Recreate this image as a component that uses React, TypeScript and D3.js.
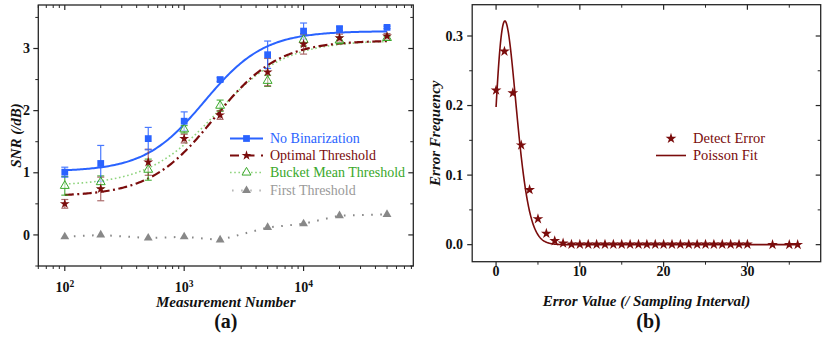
import React from "react";
import * as d3 from "d3";

// ---------- Data: panel (a) ----------
const measurementN = [100, 200, 500, 1000, 2000, 5000, 10000, 20000, 50000];
const noBinarization = [1.01, 1.15, 1.55, 1.83, 2.5, 2.9, 3.28, 3.32, 3.34];
const noBinarizationErr = [0.08, 0.29, 0.18, 0.15, 0.03, 0.22, 0.13, 0.03, 0.02];
const optimalThreshold = [0.5, 0.74, 1.17, 1.55, 1.93, 2.62, 3.07, 3.17, 3.2];
const optimalThresholdErr = [0.07, 0.19, 0.21, 0.07, 0.07, 0.22, 0.16, 0.06, 0.04];
const bucketMean = [0.79, 0.85, 1.05, 1.7, 2.08, 2.48, 3.14, 3.13, 3.17];
const bucketMeanErr = [0.15, 0.1, 0.17, 0.06, 0.09, 0.09, 0.1, 0.05, 0.03];
const firstThreshold = [-0.03, 0.0, -0.05, -0.03, -0.08, 0.12, 0.18, 0.31, 0.33];
// Boltzmann fit parameters (in log10 N): [A1, A2, x0, dx]
const fitNoBin = [1.02, 3.28, 3.17, 0.25];
const fitOptimal = [0.62, 3.13, 3.25, 0.27];
const fitBucket = [0.79, 3.13, 3.27, 0.29];
const yTicksA = [0, 1, 2, 3];
const xTicksA = [100, 1000, 10000];

// ---------- Data: panel (b) ----------
const errorValue = [
  0, 1, 2, 3, 4, 5, 6, 7, 8, 9, 10, 11, 12, 13, 14, 15, 16, 17, 18, 19, 20,
  21, 22, 23, 24, 25, 26, 27, 28, 29, 30, 33, 35, 36,
];
const errorFreq = [
  0.222, 0.278, 0.218, 0.143, 0.079, 0.037, 0.016, 0.0055, 0.002, 0.0005,
  0.0005, 0.0005, 0.0005, 0.0005, 0.0005, 0.0005, 0.0005, 0.0005, 0.0005,
  0.0005, 0.0005, 0.0005, 0.0005, 0.0005, 0.0005, 0.0005, 0.0005, 0.0005,
  0.0005, 0.0005, 0.0005, 0.0, 0.0, 0.0,
];
const poissonLambda = 1.62;
const poissonAmp = 1.0;
const poissonXScale = 0.96;
const xTicksB = [0, 10, 20, 30];
const yTicksB = [0, 0.1, 0.2, 0.3];

// ---------- styling ----------
const FONT = "Liberation Serif, Times New Roman, DejaVu Serif, serif";
const BLUE = "#2a63ff";
const RED = "#7a0c0c";
const GREEN = "#3aa82a";
const GREEN_LINE = "#8fd47e";
const GRAY = "#888888";
const AX = "#262626";

function gammaFn(z: number): number {
  const g = 7;
  const c = [
    0.99999999999980993, 676.5203681218851, -1259.1392167224028,
    771.32342877765313, -176.61502916214059, 12.507343278686905,
    -0.13857109526572012, 9.9843695780195716e-6, 1.5056327351493116e-7,
  ];
  if (z < 0.5) return Math.PI / (Math.sin(Math.PI * z) * gammaFn(1 - z));
  z -= 1;
  let x = c[0];
  for (let i = 1; i < g + 2; i++) x += c[i] / (z + i);
  const t = z + g + 0.5;
  return Math.sqrt(2 * Math.PI) * Math.pow(t, z + 0.5) * Math.exp(-t) * x;
}

function boltz(p: number[], n: number) {
  const [a1, a2, x0, dx] = p;
  const x = Math.log10(n);
  return a2 + (a1 - a2) / (1 + Math.exp((x - x0) / dx));
}

const A = { x0: 38.3, x1: 413.3, y0: 5, y1: 266 };
const B = { x0: 472.2, x1: 820.7, y0: 4.7, y1: 261.7 };

const T: React.CSSProperties = { fontFamily: FONT };

export default function App() {
  const xA = d3.scaleLog().domain([60, 83000]).range([A.x0, A.x1]);
  const yA = d3.scaleLinear().domain([-0.5, 3.7]).range([A.y1, A.y0]);
  const xB = d3.scaleLinear().domain([-2.85, 38.75]).range([B.x0, B.x1]);
  const yB = d3.scaleLinear().domain([-0.0245, 0.345]).range([B.y1, B.y0]);

  const square = d3.symbol(d3.symbolSquare, 46)()!;
  const star = d3.symbol(d3.symbolStar, 30)()!;
  const starB = d3.symbol(d3.symbolStar, 36)()!;
  const tri = d3.symbol(d3.symbolTriangle, 34)()!;

  const fitNs = d3.range(0, 201).map((i) => Math.pow(10, 2 + (i / 200) * Math.log10(500)));
  const lineA = d3
    .line<[number, number]>()
    .x((d) => xA(d[0]))
    .y((d) => yA(d[1]));
  const fitPath = (p: number[]) => lineA(fitNs.map((n) => [n, boltz(p, n)] as [number, number]))!;

  const poisX = d3.range(0, 36.001, 0.04);
  const poisPath = d3
    .line<number>()
    .x((d) => xB(d))
    .y((d) => {
      const u = d / poissonXScale;
      return yB(poissonAmp * Math.exp(-poissonLambda) * Math.pow(poissonLambda, u) / gammaFn(u + 1));
    })(poisX)!;

  const minorA: number[] = [];
  for (const dec of [10, 100, 1000, 10000]) {
    for (let k = 2; k <= 9; k++) {
      const v = dec * k;
      if (v >= 60 && v <= 83000) minorA.push(v);
    }
  }
  const minorYA = [-0.5, 0.5, 1.5, 2.5, 3.5];
  const minorXB = [5, 15, 25, 35];
  const minorYB = [0.05, 0.15, 0.25];

  const MJ = 5;
  const MN = 3;

  const errBars = (vals: number[], errs: number[], color: string, op: number) =>
    measurementN.map((n, i) => {
      const x = xA(n);
      const yt = yA(vals[i] + errs[i]);
      const yb = yA(vals[i] - errs[i]);
      return (
        <g key={i} stroke={color} strokeWidth={1.2} opacity={op}>
          <line x1={x} x2={x} y1={yt} y2={yb} />
          <line x1={x - 3.5} x2={x + 3.5} y1={yt} y2={yt} />
          <line x1={x - 3.5} x2={x + 3.5} y1={yb} y2={yb} />
        </g>
      );
    });

  const firstPath = lineA(measurementN.map((n, i) => [n, firstThreshold[i]] as [number, number]))!;

  return (
    <svg
      width={830}
      height={337}
      style={{ position: "absolute", left: 0, top: 0, background: "#fff", fontFamily: FONT }}
    >
      <rect width={830} height={337} fill="#fff" />
      {/* ================= Panel (a) ================= */}
      <g>
        <path d={firstPath} fill="none" stroke={GRAY} strokeWidth={2} strokeDasharray="1.6,7.5" />
        <path d={fitPath(fitBucket)} fill="none" stroke={GREEN_LINE} strokeWidth={1.6} strokeDasharray="1.6,2.6" />
        <path d={fitPath(fitOptimal)} fill="none" stroke={RED} strokeWidth={2.2} strokeDasharray="9,3.5,2,3.5" />
        <path d={fitPath(fitNoBin)} fill="none" stroke={BLUE} strokeWidth={2} />
        {errBars(bucketMean, bucketMeanErr, GREEN, 0.85)}
        {errBars(optimalThreshold, optimalThresholdErr, "#8a3030", 0.7)}
        {errBars(noBinarization, noBinarizationErr, BLUE, 0.85)}
        {measurementN.map((n, i) => (
          <path key={"f" + i} d={tri} transform={`translate(${xA(n)},${yA(firstThreshold[i])})`} fill={GRAY} />
        ))}
        {measurementN.map((n, i) => (
          <path key={"b" + i} d={tri} transform={`translate(${xA(n)},${yA(bucketMean[i])})`} fill="#fff" fillOpacity={0.6} stroke={GREEN} strokeWidth={1} />
        ))}
        {measurementN.map((n, i) => (
          <path key={"o" + i} d={star} transform={`translate(${xA(n)},${yA(optimalThreshold[i])})`} fill={RED} />
        ))}
        {measurementN.map((n, i) => (
          <path key={"n" + i} d={square} transform={`translate(${xA(n)},${yA(noBinarization[i])})`} fill={BLUE} />
        ))}

        <rect x={A.x0} y={A.y0} width={A.x1 - A.x0} height={A.y1 - A.y0} fill="none" stroke={AX} strokeWidth={1.3} />
        {xTicksA.map((v) => (
          <g key={"xt" + v} stroke={AX} strokeWidth={1.2}>
            <line x1={xA(v)} x2={xA(v)} y1={A.y1} y2={A.y1 + MJ} />
            <line x1={xA(v)} x2={xA(v)} y1={A.y0} y2={A.y0 + MJ} />
          </g>
        ))}
        {minorA.map((v) => (
          <g key={"xm" + v} stroke={AX} strokeWidth={1}>
            <line x1={xA(v)} x2={xA(v)} y1={A.y1} y2={A.y1 + MN} />
            <line x1={xA(v)} x2={xA(v)} y1={A.y0} y2={A.y0 + MN} />
          </g>
        ))}
        {xTicksA.map((v) => (
          <text key={"xl" + v} style={T} x={xA(v)} y={292} textAnchor="middle" fontSize={14} fontWeight="bold" fill="#111">
            10
            <tspan fontSize={9.5} dy={-5.5}>
              {Math.round(Math.log10(v))}
            </tspan>
          </text>
        ))}
        {yTicksA.map((v) => (
          <g key={"yt" + v} stroke={AX} strokeWidth={1.2}>
            <line x1={A.x0 - MJ} x2={A.x0} y1={yA(v)} y2={yA(v)} />
            <line x1={A.x1 - MJ} x2={A.x1} y1={yA(v)} y2={yA(v)} />
          </g>
        ))}
        {minorYA.map((v) => (
          <g key={"ym" + v} stroke={AX} strokeWidth={1}>
            <line x1={A.x0 - MN} x2={A.x0} y1={yA(v)} y2={yA(v)} />
            <line x1={A.x1 - MN} x2={A.x1} y1={yA(v)} y2={yA(v)} />
          </g>
        ))}
        {yTicksA.map((v) => (
          <text key={"yl" + v} style={T} x={30} y={yA(v) + 4.7} textAnchor="end" fontSize={14} fontWeight="bold" fill="#111">
            {v}
          </text>
        ))}
        <text style={T} x={(A.x0 + A.x1) / 2} y={307} textAnchor="middle" fontSize={15} fontWeight="bold" fontStyle="italic" fill="#111">
          Measurement Number
        </text>
        <text style={T} x={(A.x0 + A.x1) / 2} y={328} textAnchor="middle" fontSize={20} fontWeight="bold" fill="#111">
          (a)
        </text>
        <text
          style={T}
          transform={`translate(21,${(A.y0 + A.y1) / 2}) rotate(-90)`}
          textAnchor="middle"
          fontSize={15}
          fontWeight="bold"
          fontStyle="italic"
          fill="#111"
        >
          SNR (/dB)
        </text>

        {[
          { label: "No Binarization", color: BLUE, y: 138.5 },
          { label: "Optimal Threshold", color: RED, y: 155.5 },
          { label: "Bucket Mean Threshold", color: GREEN, y: 172.5 },
          { label: "First Threshold", color: "#9a9a9a", y: 190.5 },
        ].map((e, i) => (
          <g key={"lg" + i}>
            {i === 0 && <line x1={230} x2={263} y1={e.y} y2={e.y} stroke={BLUE} strokeWidth={2} />}
            {i === 1 && <line x1={230} x2={263} y1={e.y} y2={e.y} stroke={RED} strokeWidth={2.2} strokeDasharray="9,6.5" />}
            {i === 2 && <line x1={230} x2={263} y1={e.y} y2={e.y} stroke={GREEN_LINE} strokeWidth={1.6} strokeDasharray="1.6,2.6" />}
            {i === 3 && <line x1={230} x2={263} y1={e.y} y2={e.y} stroke={GRAY} strokeWidth={2} strokeDasharray="1.6,7.5" strokeDashoffset={-2} opacity={0.6} />}
            {i === 0 && <path d={square} transform={`translate(246.5,${e.y})`} fill={BLUE} />}
            {i === 1 && <path d={star} transform={`translate(246.5,${e.y})`} fill={RED} />}
            {i === 2 && <path d={tri} transform={`translate(246.5,${e.y})`} fill="#fff" stroke={GREEN} strokeWidth={1} />}
            {i === 3 && <path d={tri} transform={`translate(246.5,${e.y})`} fill={GRAY} />}
            <text style={T} x={270} y={e.y + 4.8} fontSize={14} fill={e.color}>
              {e.label}
            </text>
          </g>
        ))}
      </g>

      {/* ================= Panel (b) ================= */}
      <g>
        <path d={poisPath} fill="none" stroke={RED} strokeWidth={1.6} />
        {errorValue.map((v, i) => (
          <path key={"s" + i} d={starB} transform={`translate(${xB(v)},${yB(errorFreq[i])})`} fill={RED} />
        ))}
        <rect x={B.x0} y={B.y0} width={B.x1 - B.x0} height={B.y1 - B.y0} fill="none" stroke={AX} strokeWidth={1.3} />
        {xTicksB.map((v) => (
          <g key={"bxt" + v} stroke={AX} strokeWidth={1.2}>
            <line x1={xB(v)} x2={xB(v)} y1={B.y1} y2={B.y1 + MJ} />
            <line x1={xB(v)} x2={xB(v)} y1={B.y0} y2={B.y0 + MJ} />
          </g>
        ))}
        {minorXB.map((v) => (
          <g key={"bxm" + v} stroke={AX} strokeWidth={1}>
            <line x1={xB(v)} x2={xB(v)} y1={B.y1} y2={B.y1 + MN} />
            <line x1={xB(v)} x2={xB(v)} y1={B.y0} y2={B.y0 + MN} />
          </g>
        ))}
        {xTicksB.map((v) => (
          <text key={"bxl" + v} style={T} x={xB(v)} y={276} textAnchor="middle" fontSize={14} fontWeight="bold" fill="#111">
            {v}
          </text>
        ))}
        {yTicksB.map((v) => (
          <g key={"byt" + v} stroke={AX} strokeWidth={1.2}>
            <line x1={B.x0 - MJ} x2={B.x0} y1={yB(v)} y2={yB(v)} />
            <line x1={B.x1 - MJ} x2={B.x1} y1={yB(v)} y2={yB(v)} />
          </g>
        ))}
        {minorYB.map((v) => (
          <g key={"bym" + v} stroke={AX} strokeWidth={1}>
            <line x1={B.x0 - MN} x2={B.x0} y1={yB(v)} y2={yB(v)} />
            <line x1={B.x1 - MN} x2={B.x1} y1={yB(v)} y2={yB(v)} />
          </g>
        ))}
        {yTicksB.map((v) => (
          <text key={"byl" + v} style={T} x={463} y={yB(v) + 4.7} textAnchor="end" fontSize={14} fontWeight="bold" fill="#111">
            {v.toFixed(1)}
          </text>
        ))}
        <text style={T} x={(B.x0 + B.x1) / 2} y={306} textAnchor="middle" fontSize={15} fontWeight="bold" fontStyle="italic" fill="#111">
          Error Value (/ Sampling Interval)
        </text>
        <text style={T} x={(B.x0 + B.x1) / 2 + 2} y={328} textAnchor="middle" fontSize={20} fontWeight="bold" fill="#111">
          (b)
        </text>
        <text
          style={T}
          transform={`translate(440,${(B.y0 + B.y1) / 2}) rotate(-90)`}
          textAnchor="middle"
          fontSize={15}
          fontWeight="bold"
          fontStyle="italic"
          fill="#111"
        >
          Error Frequency
        </text>
        <path d={starB} transform="translate(671,138.5)" fill={RED} />
        <text style={T} x={693} y={143.3} fontSize={14.5} fill={RED}>
          Detect Error
        </text>
        <line x1={656} x2={686} y1={155.5} y2={155.5} stroke={RED} strokeWidth={1.6} />
        <text style={T} x={693} y={160.3} fontSize={14.5} fill={RED}>
          Poisson Fit
        </text>
      </g>
    </svg>
  );
}
